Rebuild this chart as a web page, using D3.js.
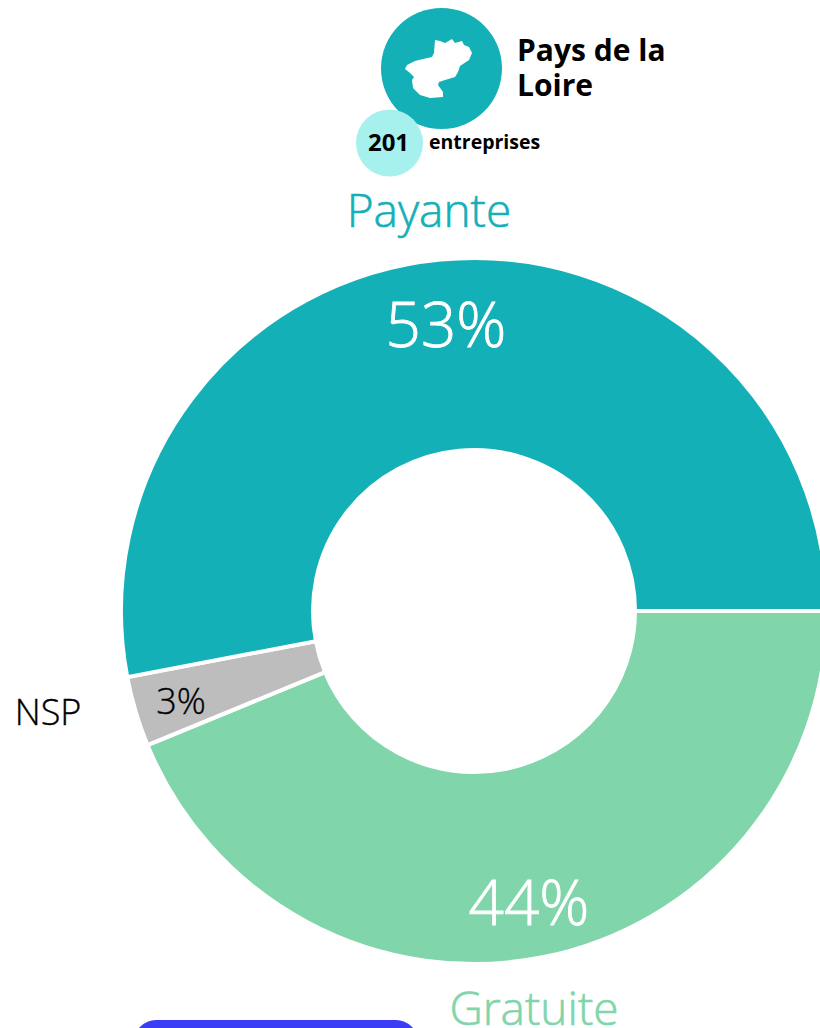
<!DOCTYPE html>
<html><head><meta charset="utf-8">
<script src="https://cdn.jsdelivr.net/npm/d3@7"></script>
<style>html,body{margin:0;padding:0;background:#fff;overflow:hidden}svg{display:block}text{font-family:"Open Sans","Noto Sans",sans-serif}</style>
</head><body><svg id="c" width="820" height="1028"></svg>
<script>
const categories=["Gratuite","NSP","Payante"];
const values=[43.8,3.2,53];
const pctLabels=["44%","3%","53%"];
const colors=["#80d5aa","#bdbdbd","#14b0b8"];
const labelColors=["#fff","#000","#fff"];
const region=["Pays de la","Loire"];
const count="201";
const countLabel="entreprises";
const mapShape=[[95,40],[100,41],[105,43],[112,39],[115,43],[122,41],[124,45],[129,47],[132,53],[129,60],[120,66],[118,72],[115,77],[105,80],[99,82],[98,85],[103,92],[103,97],[90,98],[80,95],[73,88],[72,80],[74,77],[70,73],[65,69],[67,65],[75,61],[83,59],[92,57],[94,53]];

const svg=d3.select("#c");
const cx=474,cy=611,R=353,r0=161;
const pie=d3.pie().sort(null).value(d=>d).startAngle(Math.PI/2).endAngle(Math.PI*2.5);
const arc=d3.arc().innerRadius(r0).outerRadius(R);
const g=svg.append("g").attr("transform",`translate(${cx},${cy})`);
const arcs=pie(values);
g.selectAll("path").data(arcs).join("path").attr("d",arc).attr("fill",(d,i)=>colors[i]).attr("stroke","#fff").attr("stroke-width",4);

const pctPos=[[529,903,62],[181,701,36],[446,325,62]];
svg.selectAll("text.pct").data(pctLabels).join("text").attr("class","pct")
 .attr("x",(d,i)=>pctPos[i][0]).attr("y",(d,i)=>pctPos[i][1]+pctPos[i][2]*0.36)
 .attr("text-anchor","middle").attr("font-size",(d,i)=>pctPos[i][2]).attr("font-weight",300)
 .attr("fill",(d,i)=>labelColors[i]).attr("stroke",(d,i)=>labelColors[i]).attr("stroke-width",(d,i)=>i==1?0.35:0.8).text(d=>d);

const catPos=[[534,1025,colors[0],46],[48,725,"#000",36],[429,227,colors[2],46]];
svg.selectAll("text.cat").data(categories).join("text").attr("class","cat")
 .attr("x",(d,i)=>catPos[i][0]).attr("y",(d,i)=>catPos[i][1]).attr("text-anchor","middle")
 .attr("font-size",(d,i)=>catPos[i][3]).attr("font-weight",300).attr("fill",(d,i)=>catPos[i][2])
 .attr("stroke",(d,i)=>catPos[i][2]).attr("stroke-width",(d,i)=>i==1?0.35:0.6).text(d=>d);

// header
svg.append("circle").attr("cx",441.5).attr("cy",68.5).attr("r",60.5).attr("fill","#14b0b8");
svg.append("circle").attr("cx",389.5).attr("cy",143).attr("r",33.5).attr("fill","#a6f0ee");
svg.append("path").attr("transform","translate(340,0)").attr("d",d3.line().curve(d3.curveLinearClosed)(mapShape)).attr("fill","#fff");
svg.selectAll("text.reg").data(region).join("text").attr("class","reg").attr("x",517).attr("y",(d,i)=>61+i*35)
 .attr("font-size",30).attr("font-weight",700).attr("fill","#000").text(d=>d);
svg.append("text").attr("x",388.5).attr("y",151).attr("text-anchor","middle").attr("font-size",24).attr("font-weight",700).text(count);
svg.append("text").attr("x",429).attr("y",149).attr("font-size",19.5).attr("font-weight",700).text(countLabel);
// bottom button
svg.append("rect").attr("x",134).attr("y",1020).attr("width",284).attr("height",50).attr("rx",22).attr("fill","#3a3df5");
</script></body></html>
